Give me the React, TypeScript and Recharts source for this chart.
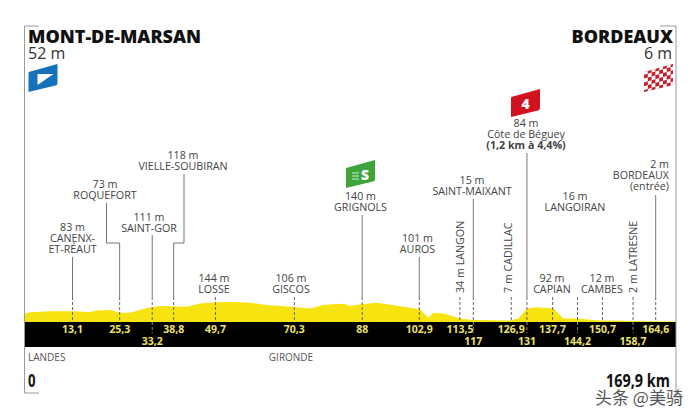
import React from 'react'
import { ComposedChart, Area, XAxis, YAxis, ReferenceArea, ReferenceLine, ReferenceDot } from 'recharts'

// profile
const profileKm = [0, 1.5, 6.5, 12.4, 17, 18.7, 22.2, 24.8, 27.4, 31.8, 35.2, 42.2, 45.7, 50, 54.4, 58.7, 63.1, 69.2, 74.4, 77.9, 83.1, 84.9, 88, 91.8, 96.2, 103, 105.3, 106.6, 109.2, 113.5, 117, 126.5, 128.8, 131, 133.6, 137.9, 140.5, 144, 150, 169.9]
const profileAlt = [62, 70, 77, 77, 72, 82, 86, 67, 67, 101, 115, 110, 134, 142, 144, 139, 122, 110, 98, 125, 132, 115, 130, 139, 120, 91, 31, 67, 62, 26, 14, 10, 26, 98, 106, 98, 26, 26, 10, 3]

// where each passage sits on the km axis, and what is printed for it
const passageKm = [12.4, 24.7, 33.2, 38.8, 49.7, 70.3, 88, 102.9, 113.5, 117, 126.9, 131, 137.7, 144.2, 150.7, 158.7, 164.6]
const passageLabels = ['13,1', '25,3', '33,2', '38,8', '49,7', '70,3', '88', '102,9', '113,5', '117', '126,9', '131', '137,7', '144,2', '150,7', '158,7', '164,6']
const lowerRow = ['33,2', '117', '131', '144,2', '158,7']

const placeTexts = [
  ['83 m', 'CANENX-', 'ET-RÉAUT'],
  ['73 m', 'ROQUEFORT'],
  ['111 m', 'SAINT-GOR'],
  ['118 m', 'VIELLE-SOUBIRAN'],
  ['144 m', 'LOSSE'],
  ['106 m', 'GISCOS'],
  ['140 m', 'GRIGNOLS'],
  ['101 m', 'AUROS'],
  ['15 m', 'SAINT-MAIXANT'],
  ['84 m', 'Côte de Béguey', '(1,2 km à 4,4%)'],
  ['92 m', 'CAPIAN'],
  ['16 m', 'LANGOIRAN'],
  ['12 m', 'CAMBES'],
  ['2 m', 'BORDEAUX', '(entrée)'],
]
const verticalTexts = ['34 m LANGON', '7 m CADILLAC', '2 m LATRESNE']

const chartData = profileKm.map((km, i) => ({ km, alt: profileAlt[i] }))

// layout, in page pixels
const W = 700
const H = 420
const LEFT = 25
const RIGHT = 676
const BASE = 322
const BAND = 347
const TOP = 26
const PX_PER_KM = (RIGHT - LEFT) / 169.9
const M_PER_PX = 7.2
const kmAt = (x: number) => (x - LEFT) / PX_PER_KM
const altAt = (y: number) => (BASE - y) * M_PER_PX

const placeSpots = [
  { x: 72.5, y: 227 }, { x: 105, y: 184 }, { x: 149, y: 217 }, { x: 183, y: 155 },
  { x: 214, y: 278 }, { x: 291, y: 278 }, { x: 360.5, y: 196 }, { x: 417.5, y: 238 },
  { x: 472, y: 180 }, { x: 526, y: 123 }, { x: 552, y: 278 }, { x: 575, y: 196 },
  { x: 602, y: 278 }, { x: 669, y: 164, anchor: 'end' },
]
const verticalSpots = [{ x: 460, y: 293 }, { x: 508, y: 293 }, { x: 633, y: 293 }]

// solid leaders: top pixel per passage (null = only the dashed stub)
const leaderTops: (number | null)[] = [257, null, 235, null, null, null, 215, 257, null, 199, null, 153, null, null, null, null, 195]
const stubTop = 297
const elbows = [
  { fromX: 106.5, top: 203, toKm: 1 },
  { fromX: 184, top: 174, toKm: 3 },
]
const ELBOW_Y = 243

const KmTick = (props: any) => {
  const { x, y, payload } = props
  const label = passageLabels[passageKm.indexOf(payload.value)]
  const low = lowerRow.includes(label)
  return (
    <text x={x} y={low ? y - 2 : y - 14} textAnchor="middle" fontFamily="'Open Sans'" fontWeight={700} fontSize={10.5} fill="#ece26a">
      {label}
    </text>
  )
}

const PlaceLabel = ({ cx, cy, lines, anchor }: any) => (
  <g>
    {lines.map((t: string, i: number) => (
      <text
        key={i}
        x={cx}
        y={cy + 3.5 + i * 11}
        textAnchor={anchor || 'middle'}
        fontFamily="'Open Sans'"
        fontSize={10.7}
        fontWeight={t.startsWith('(1,2') ? 700 : 400}
        fill="#444"
      >
        {t}
      </text>
    ))}
  </g>
)

const VerticalLabel = ({ cx, cy, text }: any) => (
  <text x={cx} y={cy} transform={`rotate(-90 ${cx} ${cy})`} dy={3.5} fontFamily="'Open Sans'" fontSize={10.7} fill="#444">
    {text}
  </text>
)

const seg = (x1: number, y1: number, x2: number, y2: number) => [{ x: x1, y: y1 }, { x: x2, y: y2 }] as any

const FLAG_PATH = 'M0 9 Q0 8 1 7.700 L29 0 V19 Q29 21 27 21.500 L0 28 Z'

const Flag = ({ x, y, fill, children }: { x: number; y: number; fill: string; children?: React.ReactNode }) => (
  <g transform={`translate(${x} ${y})`}>
    <path d={FLAG_PATH} fill={fill} />
    {children}
  </g>
)

const checks: [number, number][] = []
for (let c = 0; c < 8; c++) for (let r = 0; r < 7; r++) if ((c + r) % 2 === 0) checks.push([c, r])

export default function App() {
  return (
    <div style={{ position: 'absolute', left: 0, top: 0, width: W, height: H, background: '#fff' }}>
      <ComposedChart width={W} height={H} data={chartData} margin={{ top: TOP, right: W - RIGHT, bottom: H - BAND - 30, left: LEFT }}>
        <XAxis
          dataKey="km"
          type="number"
          domain={[0, 169.9]}
          ticks={passageKm}
          interval={0}
          height={30}
          axisLine={false}
          tickLine={false}
          tickSize={0}
          tickMargin={0}
          tick={<KmTick />}
        />
        <YAxis hide domain={[altAt(BAND), altAt(TOP)]} />
        <ReferenceArea x1={0} x2={169.9} y1={altAt(BAND)} y2={0} fill="#000" fillOpacity={1} stroke="none" />
        <Area dataKey="alt" type="linear" baseValue={0} fill="#f7e30f" fillOpacity={1} stroke="none" isAnimationActive={false} />

        {passageKm.map((km, i) => {
          const top = leaderTops[i]
          return (
            <React.Fragment key={km}>
              {top !== null && <ReferenceLine segment={seg(km, altAt(top), km, altAt(stubTop))} stroke="#777" strokeWidth={1} />}
              <ReferenceLine segment={seg(km, altAt(stubTop), km, 0)} stroke="#666" strokeWidth={1} strokeDasharray="3 2" />
              {lowerRow.includes(passageLabels[i]) && (
                <ReferenceLine segment={seg(km, 0, km, altAt(333))} stroke="#888" strokeWidth={1} strokeDasharray="3 2" />
              )}
            </React.Fragment>
          )
        })}
        {elbows.map((e) => {
          const k = kmAt(e.fromX)
          const to = passageKm[e.toKm]
          return (
            <React.Fragment key={e.toKm}>
              <ReferenceLine segment={seg(k, altAt(e.top), k, altAt(ELBOW_Y))} stroke="#777" />
              <ReferenceLine segment={seg(k, altAt(ELBOW_Y), to, altAt(ELBOW_Y))} stroke="#777" />
              <ReferenceLine segment={seg(to, altAt(ELBOW_Y), to, altAt(stubTop))} stroke="#777" />
            </React.Fragment>
          )
        })}

        {placeTexts.map((lines, i) => (
          <ReferenceDot
            key={lines[1]}
            x={kmAt(placeSpots[i].x)}
            y={altAt(placeSpots[i].y)}
            r={0}
            shape={(p: any) => <PlaceLabel {...p} lines={lines} anchor={placeSpots[i].anchor} />}
          />
        ))}
        {verticalTexts.map((text, i) => (
          <ReferenceDot
            key={text}
            x={kmAt(verticalSpots[i].x)}
            y={altAt(verticalSpots[i].y)}
            r={0}
            shape={(p: any) => <VerticalLabel {...p} text={text} />}
          />
        ))}
      </ComposedChart>

      <svg width={W} height={H} style={{ position: 'absolute', left: 0, top: 0, pointerEvents: 'none' }}>
        <defs>
          <clipPath id="flagClip">
            <path d={FLAG_PATH} />
          </clipPath>
        </defs>

        {/* frame */}
        <path d="M39 26 H24.500 V393 H39" fill="none" stroke="#999" strokeWidth={1} />
        <path d="M660 26 H676 V396" fill="none" stroke="#999" strokeWidth={1} />

        <g fontFamily="'Open Sans'">
          <text x={28} y={43} fontSize={18} fontWeight={800} fill="#111">MONT-DE-MARSAN</text>
          <text x={28} y={59} fontSize={16} fill="#333">52 m</text>
          <text x={673} y={43} fontSize={18} fontWeight={800} fill="#111" textAnchor="end">BORDEAUX</text>
          <text x={672} y={59} fontSize={16} fill="#333" textAnchor="end">6 m</text>
          <text x={28} y={361} fontSize={10} fill="#555">LANDES</text>
          <text x={291} y={361} fontSize={10} fill="#555" textAnchor="middle">GIRONDE</text>
          <text x={28} y={387} fontSize={17} fontWeight={700} fill="#111" textLength={7.500} lengthAdjust="spacingAndGlyphs">0</text>
          <text x={606} y={387} fontSize={17} fontWeight={700} fill="#111" textLength={64} lengthAdjust="spacingAndGlyphs">169,9 km</text>
        </g>
        <text x={595} y={404} fontFamily="'Noto Sans CJK SC'" fontSize={17} fill="#555">头条 @美骑</text>

        {/* start, sprint, climb and finish flags */}
        <Flag x={28.500} y={64} fill="#1572b8">
          <path d="M9 10 L25 10 L9 21 Z" fill="#fff" />
        </Flag>
        <Flag x={346} y={160} fill="#3da53c">
          <path d="M6 13 H13 M6 16 H13 M6 19 H13" stroke="#cfeccd" strokeWidth={1} />
          <text x={19} y={20} fontFamily="'Open Sans'" fontSize={14} fontWeight={800} fill="#fff" textAnchor="middle">S</text>
        </Flag>
        <Flag x={511} y={89} fill="#d3121f">
          <text x={14.500} y={20} fontFamily="'Open Sans'" fontSize={14} fontWeight={800} fill="#fff" textAnchor="middle">4</text>
        </Flag>
        <Flag x={644} y={64} fill="#c81e2b">
          <g clipPath="url(#flagClip)">
            <g transform="skewY(-16)">
              {checks.map(([c, r]) => (
                <rect key={`${c}-${r}`} x={c * 3.800} y={7 + r * 3.800} width={3.800} height={3.800} fill="#fff" />
              ))}
            </g>
          </g>
        </Flag>
      </svg>
    </div>
  )
}
